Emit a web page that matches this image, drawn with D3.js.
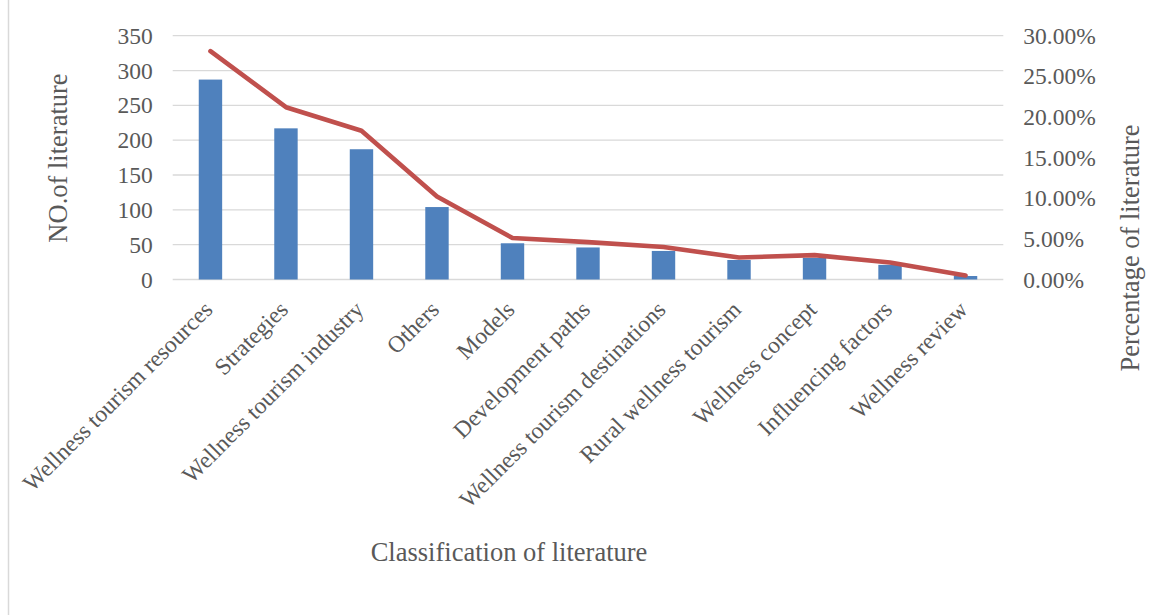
<!DOCTYPE html>
<html>
<head>
<meta charset="utf-8">
<script src="https://cdn.jsdelivr.net/npm/d3@7"></script>
<style>
  html, body { margin: 0; padding: 0; background: #fff; }
  svg { display: block; }
  text { font-family: "Liberation Serif", "Times New Roman", serif; fill: #595959; }
</style>
</head>
<body>
<svg id="chart" width="1162" height="615"></svg>
<script>
const categories = [
  "Wellness tourism resources", "Strategies", "Wellness tourism industry", "Others",
  "Models", "Development paths", "Wellness tourism destinations", "Rural wellness tourism",
  "Wellness concept", "Influencing factors", "Wellness review"
];
const counts = [287, 217, 187, 104, 52, 46, 41, 28, 31, 21, 5];
const percents = [28.1, 21.2, 18.3, 10.2, 5.1, 4.6, 4.0, 2.7, 3.0, 2.1, 0.5];
const leftTicks = [0, 50, 100, 150, 200, 250, 300, 350];
const rightTicks = [0, 5, 10, 15, 20, 25, 30];

const svg = d3.select("#chart");
const plot = { left: 172.7, right: 1003.3, top: 35.7, bottom: 279.5 };
const tickFont = 23.5;

const x = d3.scaleBand().domain(categories)
  .range([plot.left, plot.right]).paddingInner(0.69).paddingOuter(0.345);
const yL = d3.scaleLinear().domain([0, 350]).range([plot.bottom, plot.top]);
const yR = d3.scaleLinear().domain([0, 30]).range([plot.bottom, plot.top]);

// chart area left border
svg.append("line").attr("x1", 8.5).attr("x2", 8.5).attr("y1", 0).attr("y2", 615)
  .attr("stroke", "#d9d9d9").attr("stroke-width", 1.5);

// gridlines
svg.append("g").selectAll("line").data(leftTicks).join("line")
  .attr("x1", plot.left).attr("x2", plot.right)
  .attr("y1", d => yL(d)).attr("y2", d => yL(d))
  .attr("stroke", "#d9d9d9").attr("stroke-width", 1.3);

// left axis
const axL = d3.axisLeft(yL).tickValues(leftTicks).tickSize(0).tickPadding(20);
const gL = svg.append("g").attr("transform", `translate(${plot.left},0)`).call(axL);
gL.select(".domain").remove();
gL.selectAll("text").attr("font-size", tickFont).attr("fill", "#595959")
  .attr("font-family", "Liberation Serif, Times New Roman, serif");

// right axis
const axR = d3.axisRight(yR).tickValues(rightTicks).tickSize(0).tickPadding(20)
  .tickFormat(d => d.toFixed(2) + "%");
const gR = svg.append("g").attr("transform", `translate(${plot.right},0)`).call(axR);
gR.select(".domain").remove();
gR.selectAll("text").attr("font-size", tickFont).attr("fill", "#595959")
  .attr("font-family", "Liberation Serif, Times New Roman, serif");

// bars
svg.append("g").selectAll("rect").data(categories).join("rect")
  .attr("x", d => x(d)).attr("width", x.bandwidth())
  .attr("y", (d, i) => yL(counts[i]))
  .attr("height", (d, i) => yL(0) - yL(counts[i]))
  .attr("fill", "#4f81bd");

// line
const line = d3.line()
  .x((d, i) => x(categories[i]) + x.bandwidth() / 2)
  .y(d => yR(d));
svg.append("path").datum(percents).attr("d", line)
  .attr("fill", "none").attr("stroke", "#c0504d").attr("stroke-width", 4.6)
  .attr("stroke-linecap", "round").attr("stroke-linejoin", "round");

// x category labels
svg.append("g").selectAll("text").data(categories).join("text")
  .attr("transform", d => `translate(${x(d) + x.bandwidth() / 2 + 3.5},311) rotate(-45)`)
  .attr("text-anchor", "end").attr("font-size", tickFont)
  .text(d => d);

// axis titles
svg.append("text").attr("x", 509).attr("y", 561).attr("text-anchor", "middle")
  .attr("font-size", 26.5).text("Classification of literature");
svg.append("text").attr("transform", "translate(67,158) rotate(-90)")
  .attr("text-anchor", "middle").attr("font-size", 26.5).text("NO.of literature");
svg.append("text").attr("transform", "translate(1139,248) rotate(-90)")
  .attr("text-anchor", "middle").attr("font-size", 26.5).text("Percentage of literature");
</script>
</body>
</html>
